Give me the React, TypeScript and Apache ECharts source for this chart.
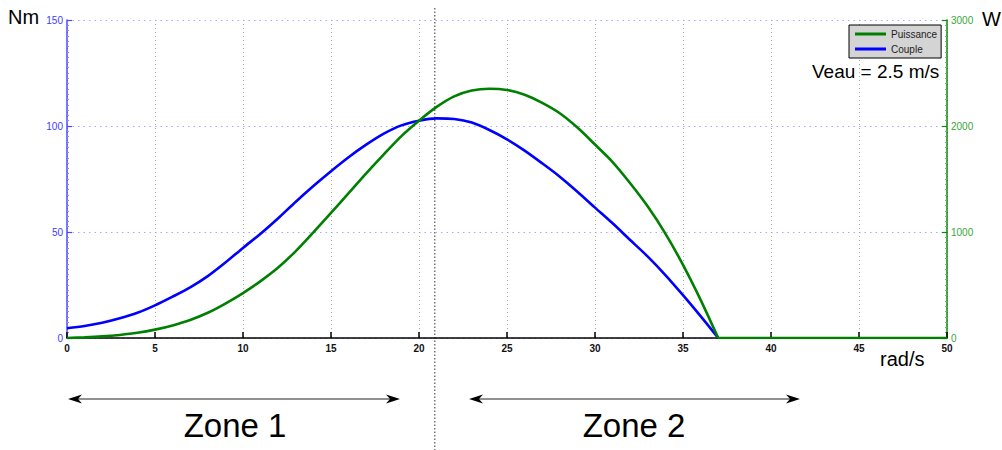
import React, { useEffect, useRef } from "react";
import * as echarts from "echarts";

const omega = [0, 1, 2, 3, 4, 5, 6, 7, 8, 9, 10, 11, 12, 13, 14, 15, 16, 17, 18, 19, 20, 21, 22, 23, 24, 25, 26, 27, 28, 29, 30, 31, 32, 33, 34, 35, 36, 37, 40, 45, 50];
const couple = [4.6, 5.7, 7.2, 9.3, 11.9, 15.4, 19.5, 23.9, 29.2, 35.6, 42.5, 49.2, 56.5, 64.3, 71.7, 78.7, 85.3, 91.2, 96.4, 100.3, 102.5, 103.6, 103.3, 101.6, 98.1, 93.7, 88.4, 82.4, 76.1, 69.0, 61.5, 54.1, 46.2, 38.4, 29.7, 20.2, 10.3, 0, 0, 0, 0];
const puissance = [0, 6, 15, 29, 49, 79, 119, 170, 238, 325, 424, 537, 665, 820, 997, 1180, 1366, 1553, 1732, 1905, 2050, 2180, 2280, 2335, 2352, 2340, 2295, 2218, 2120, 1985, 1825, 1660, 1460, 1240, 985, 690, 360, 0, 0, 0, 0];
const seriesNames = ["Puissance", "Couple"];
const zoneSplit = 20.9;
const cutoff = 37;

const FONT = "Liberation Sans, Arial, Helvetica, sans-serif";

function arrowHead(tipX: number, y: number, dir: number) {
  return {
    type: "polygon",
    shape: {
      points: [
        [tipX, y],
        [tipX + dir * 14, y - 4.5],
        [tipX + dir * 10, y],
        [tipX + dir * 14, y + 4.5],
      ],
    },
    style: { fill: "#000" },
    silent: true,
  };
}

function pairs(vals: number[], from: "before" | "after") {
  const out: number[][] = [];
  omega.forEach((w, i) => {
    if ((from === "before" && w <= cutoff) || (from === "after" && w >= cutoff)) out.push([w, vals[i]]);
  });
  return out;
}

export default function App() {
  const ref = useRef<HTMLDivElement>(null);
  useEffect(() => {
    document.body.style.margin = "0";
    if (!ref.current) return;
    const chart = echarts.init(ref.current, null, { renderer: "svg" });
    const x0 = 67, x1 = 947;
    const xp = (v: number) => x0 + ((x1 - x0) * v) / 50;
    const splitX = xp(zoneSplit);
    const arrowY = 399;
    const green = "#008000";
    const blue = "#0000ff";
    const lineCommon = { type: "line", showSymbol: false, symbol: "none" };
    chart.setOption({
      animation: false,
      backgroundColor: "#fff",
      grid: { left: 67, right: 55, top: 20, bottom: 112, containLabel: false },
      legend: {
        data: seriesNames,
        orient: "vertical",
        left: 849,
        top: 25,
        backgroundColor: "#d4d4d4",
        borderColor: "#000",
        borderWidth: 1,
        borderRadius: 0,
        padding: [3, 4, 3, 6],
        itemWidth: 31,
        itemHeight: 3,
        itemGap: 3,
        icon: "rect",
        textStyle: { fontSize: 10, color: "#222", fontFamily: FONT, lineHeight: 12 },
      },
      xAxis: {
        type: "value",
        min: 0,
        max: 50,
        interval: 5,
        axisLine: { show: true, onZero: false, lineStyle: { color: "#000", width: 1.5 } },
        axisTick: { show: true, inside: true, length: 6, lineStyle: { color: "#000", width: 1.5 } },
        axisLabel: { color: "#111", fontSize: 10, fontWeight: "bold", fontFamily: FONT, margin: 5 },
        splitLine: { show: true, lineStyle: { color: "#a8a8a8", type: [1, 3], width: 1 } },
      },
      yAxis: [
        {
          type: "value",
          min: 0,
          max: 150,
          interval: 50,
          position: "left",
          axisLine: { show: true, lineStyle: { color: "#4a4aff", width: 1.5 } },
          axisTick: { show: true, inside: true, length: 5, lineStyle: { color: "#4a4aff", width: 1.2 } },
          minorTick: { show: true, splitNumber: 20, length: 2, lineStyle: { color: "#8a8aff", width: 1 } },
          axisLabel: { color: "#3c3cff", fontSize: 10, fontFamily: FONT, margin: 4 },
          splitLine: { show: true, lineStyle: { color: "#a8a8ff", type: [1.5, 4], width: 1 } },
        },
        {
          type: "value",
          min: 0,
          max: 3000,
          interval: 1000,
          position: "right",
          axisLine: { show: true, lineStyle: { color: "#0a8a0a", width: 1.5 } },
          axisTick: { show: true, inside: true, length: 5, lineStyle: { color: "#0a8a0a", width: 1.2 } },
          minorTick: { show: true, splitNumber: 20, length: 2, lineStyle: { color: "#6ab86a", width: 1 } },
          axisLabel: { color: "#3aa53a", fontSize: 10, fontFamily: FONT, margin: 4, formatter: (v: number) => String(v) },
          splitLine: { show: false },
        },
      ],
      series: [
        {
          ...lineCommon,
          name: "Puissance",
          yAxisIndex: 1,
          data: pairs(puissance, "before"),
          smooth: 0.3,
          lineStyle: { color: green, width: 2.6 },
          itemStyle: { color: green },
          z: 3,
        },
        {
          ...lineCommon,
          name: "Puissance",
          yAxisIndex: 1,
          data: pairs(puissance, "after"),
          smooth: false,
          lineStyle: { color: green, width: 2.6 },
          itemStyle: { color: green },
          z: 3,
        },
        {
          ...lineCommon,
          name: "Couple",
          yAxisIndex: 0,
          data: pairs(couple, "before"),
          smooth: 0.3,
          lineStyle: { color: blue, width: 2.6 },
          itemStyle: { color: blue },
          z: 2,
        },
      ],
      graphic: [
        { type: "text", left: 8, top: 7, style: { text: "Nm", fontSize: 20, fill: "#000", fontFamily: FONT } },
        { type: "text", left: 982, top: 9, style: { text: "W", fontSize: 20, fill: "#000", fontFamily: FONT } },
        { type: "text", left: 880, top: 349, style: { text: "rad/s", fontSize: 20, fill: "#000", fontFamily: FONT } },
        { type: "text", left: 812, top: 62, style: { text: "Veau = 2.5 m/s", fontSize: 19, fill: "#000", fontFamily: FONT } },
        {
          type: "line",
          shape: { x1: splitX, y1: 8, x2: splitX, y2: 450 },
          style: { stroke: "#333", lineWidth: 1, lineDash: [1.5, 2] },
          silent: true,
        },
        { type: "line", shape: { x1: 72, y1: arrowY, x2: 396, y2: arrowY }, style: { stroke: "#222", lineWidth: 1.2 }, silent: true },
        arrowHead(68, arrowY, 1),
        arrowHead(400, arrowY, -1),
        { type: "line", shape: { x1: 473, y1: arrowY, x2: 796, y2: arrowY }, style: { stroke: "#222", lineWidth: 1.2 }, silent: true },
        arrowHead(469, arrowY, 1),
        arrowHead(800, arrowY, -1),
        { type: "text", x: 235, y: 425, style: { text: "Zone 1", fontSize: 33, fill: "#000", fontFamily: FONT, align: "center", verticalAlign: "middle" } },
        { type: "text", x: 634, y: 425, style: { text: "Zone 2", fontSize: 33, fill: "#000", fontFamily: FONT, align: "center", verticalAlign: "middle" } },
      ],
    });
    return () => chart.dispose();
  }, []);
  return <div ref={ref} style={{ position: "absolute", left: 0, top: 0, width: 1002, height: 450 }} />;
}
